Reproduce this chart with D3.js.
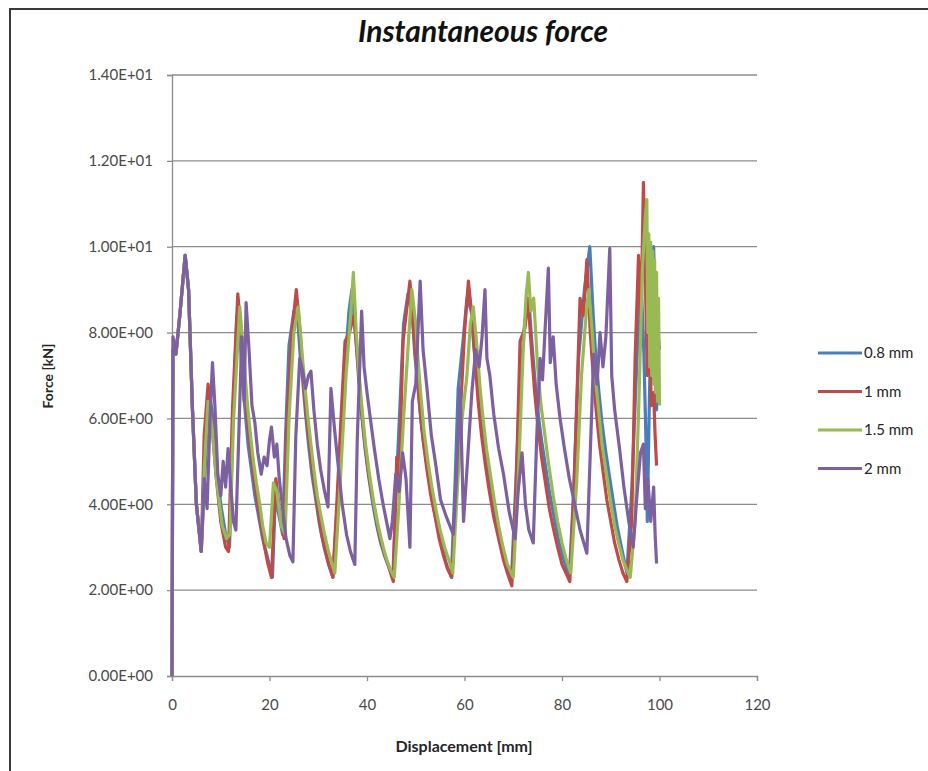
<!DOCTYPE html>
<html lang="en">
  <head>
    <meta charset="UTF-8" />
    <title>Instantaneous force</title>
    <style>
      body {
        margin: 0;
        background: #fff;
      }
      svg {
        display: block;
        font-family: Lato, "Open Sans", sans-serif;
      }
    </style>
  </head>
  <body>
    <svg width="928" height="771" id="chart"></svg>

    <script src="https://d3js.org/d3.v7.min.js"></script>
    <script>
      // tick values and labels
      var xTicks = [0, 20, 40, 60, 80, 100, 120];
      var yTicks = [0, 2, 4, 6, 8, 10, 12, 14];
      var yTickLabels = ["0.00E+00", "2.00E+00", "4.00E+00", "6.00E+00", "8.00E+00", "1.00E+01", "1.20E+01", "1.40E+01"];

      var seriesNames = ["0.8 mm", "1 mm", "1.5 mm", "2 mm"];
      var seriesColors = ["#4a7ebb", "#be4b48", "#98b954", "#7d60a0"];

      // [displacement mm, force kN]
      var blue = [
        [0,0],[0.2,7.6],[0.8,7.5],[1.6,8.4],[2.7,9.8],[3.4,9.0],[4.2,6.2],[5.0,4.0],[6.0,2.9],
        [6.8,4.8],[7.6,6.6],[8.2,6.2],[9,5.0],[10,4.0],[11,3.3],[11.8,3.0],[12.4,5.6],[13.3,8.4],
        [13.9,8.0],[14.6,6.7],[15.6,5.4],[17,4.2],[18.6,3.2],[20.6,2.3],[21.2,4.2],[22,3.7],[22.7,3.3],
        [23.3,5.6],[24,7.7],[25,8.5],[25.8,8.3],[26.4,7.3],[26.8,6.9],[27.4,6.1],[28,5.4],[28.7,4.7],[29.5,4.1],[30.3,3.5],[31.2,3.0],[32.1,2.6],[33,2.3],
        [34,4.2],[35,6.4],[36.3,8.5],[36.9,9.0],[37.7,7.9],[38.3,6.9],[38.9,6.1],[39.6,5.3],[40.4,4.6],[41.2,4.0],[42,3.5],[42.8,3.1],[43.6,2.8],
        [45.3,2.3],[46,4.4],[46.8,6.4],[47.5,8.2],[48.4,8.9],[49.3,8.4],[49.8,7.5],[50.4,6.8],[51.1,5.9],[51.9,5.2],[52.7,4.6],[53.5,4.0],[54.4,3.5],
        [55.4,3.0],[56.3,2.6],[57.3,2.3],[58.1,4.6],[58.7,6.7],[59.7,7.8],[60.5,8.8],[61.4,8.5],[61.9,7.7],[62.5,7.0],[63.2,6.1],[64,5.4],[64.8,4.8],
        [65.6,4.2],[66.6,3.6],[67.6,3.1],[68.6,2.6],[69.6,2.2],[70.5,4.4],[71.4,6.8],[72.4,8.3],[73.3,8.6],[73.8,7.8],[74.3,7.1],[75,6.2],[75.8,5.5],[76.6,4.9],
        [77.4,4.3],[78.4,3.7],[79.4,3.1],[80.4,2.7],[81.5,2.3],[82.4,4.3],[83.4,7.4],[84.6,9.0],[85.7,10.0],[86.4,8.4],[86.9,7.5],[87.5,6.7],[88.2,5.9],
        [89,5.2],[89.8,4.6],[90.6,4.0],[91.3,3.5],[92,3.1],[93.3,2.4],[94.3,4.3],[95.3,7.2],[96.2,9.3],[96.8,7.5],[97.2,5.6],
        [97.5,3.6],[97.9,6.3],[98.4,9.0],[98.8,10.0],[99.1,8.5],[99.4,6.2],[99.7,8.0],[100,7.6]
      ];
      var red = [
        [0,0],[0.2,7.6],[0.8,7.5],[1.6,8.4],[2.7,9.8],[3.4,9.0],[4.2,6.2],[5.0,4.0],[6.0,2.9],
        [6.6,5.6],[7.4,6.8],[8.1,6.0],[9,4.7],[10,3.6],[11,3.0],[11.6,2.9],[12.4,6.2],[13.5,8.9],
        [14.2,8.0],[15,6.6],[15.5,5.9],[16.1,5.3],[16.8,4.6],[17.6,4.0],[18.3,3.5],[19,3.0],[19.7,2.6],[20.4,2.3],[21.3,4.6],[22.2,3.7],[23,3.2],
        [23.5,5.7],[24.5,7.9],[25.5,9.0],[26.3,8.0],[26.8,7.1],[27.3,6.4],[27.9,5.7],[28.6,5.0],[29.3,4.4],[30,3.8],[30.7,3.3],[31.5,2.9],[32.2,2.6],[33,2.3],
        [33.8,4.0],[34.8,6.3],[35.5,7.8],[36.4,8.0],[37.3,8.4],[38.2,7.2],[38.8,6.3],[39.4,5.6],[40.1,4.9],[40.9,4.3],[41.7,3.8],[42.5,3.3],[43.2,3.0],
        [44,2.7],[45.4,2.2],[46.1,5.1],[46.6,4.6],[47.4,7.8],[48.8,9.2],[49.6,8.0],[50.2,7.1],[50.8,6.3],[51.5,5.5],[52.3,4.8],[53.1,4.2],[54,3.7],[54.8,3.2],
        [55.7,2.8],[56.5,2.5],[57.4,2.3],[58.2,4.0],[59.1,6.0],[60,8.0],[60.8,9.2],[61.6,8.3],[62.2,7.3],[62.8,6.4],[63.5,5.6],[64.3,4.9],[65.1,4.3],
        [66,3.7],[67,3.2],[68,2.7],[68.8,2.4],[69.7,2.1],[70.5,4.0],[71.4,7.8],[72.4,8.1],[73,8.8],[73.8,7.5],[74.4,6.6],[75,5.9],[75.8,5.1],
        [76.6,4.5],[77.4,3.9],[78.3,3.4],[79.1,3.0],[80,2.6],[81.6,2.2],[82.5,4.5],[83.2,7.0],[83.7,8.8],[84.4,8.4],
        [85.1,9.7],[85.8,8.0],[86.4,7.0],[87,6.2],[87.7,5.4],[88.5,4.7],[89.2,4.1],[90,3.6],[90.8,3.1],[91.7,2.7],[92.5,2.4],[93.3,2.2],[94.3,3.6],[95,7.4],
        [95.7,9.8],[96.2,8.2],[96.7,11.5],[97.1,9.2],[97.5,7.0],[97.9,8.6],[98.3,6.3],[98.8,6.6],[99.1,5.6],
        [99.4,4.9]
      ];
      var green = [
        [0,0],[0.2,7.6],[0.8,7.5],[1.6,8.4],[2.7,9.8],[3.4,9.0],[4.2,6.2],[5.0,4.0],[6.0,2.9],
        [6.7,5.0],[7.4,6.4],[8.2,5.8],[9.2,4.5],[10.3,3.5],[11.2,3.2],[11.9,3.3],[12.6,5.9],[13.9,8.6],
        [14.6,7.6],[15.5,6.3],[16.1,5.6],[16.7,5.0],[17.3,4.5],[18,4.0],[18.6,3.5],[19.3,3.1],[20,3.0],[20.8,4.5],[21.5,4.3],[22.4,3.5],
        [23.2,3.3],[24,6.0],[25,8.0],[25.9,8.6],[26.7,7.5],[27.3,6.7],[27.9,6.0],[28.5,5.4],[29.1,4.8],[29.8,4.2],[30.6,3.7],[31.3,3.3],[32.1,2.9],
        [33.4,2.4],[34.5,4.5],[35.7,7.0],[36.7,8.5],[37.2,9.4],[37.8,8.0],[38.4,7.0],[39,6.2],[39.7,5.4],[40.5,4.7],[41.3,4.1],[42.1,3.6],[42.9,3.2],
        [43.8,2.8],[44.7,2.5],[45.6,2.3],[46.5,3.9],[47.5,6.0],[48.5,7.8],[49.2,9.0],[50,8.2],[50.5,7.3],[51,6.6],[51.7,5.7],[52.5,5.0],[53.3,4.4],
        [54.1,3.9],[55,3.4],[55.9,3.0],[56.8,2.7],[57.6,2.4],[58.6,4.5],[59.5,6.0],[60.5,7.0],[61.2,8.2],[61.8,8.6],[62.6,7.6],[63.2,6.7],
        [63.8,6.0],[64.5,5.3],[65.3,4.7],[66.1,4.1],[67,3.5],[67.9,3.0],[68.8,2.6],[70,2.3],[71,4.5],[72,7.5],[72.6,8.8],[73.1,9.4],
        [73.6,8.5],[74.2,8.8],[75,7.2],[75.7,6.3],[76.5,5.6],[77.3,4.9],[78.2,4.2],[79.1,3.6],[80,3.1],[80.9,2.7],[81.8,2.4],[83,4.5],[84,7.0],
        [85,8.5],[85.5,9.0],[86.2,8.0],[86.8,7.0],[87.5,6.2],[88.2,5.4],[89,4.8],[89.9,4.1],[90.8,3.5],[91.6,3.1],[92.5,2.7],[93.2,2.5],[94,2.3],[95,3.6],
        [95.8,6.5],[96.5,9.5],[97.1,10.7],[97.4,11.1],[97.6,8.0],[97.8,10.3],[98,7.2],[98.2,10.1],[98.4,7.0],
        [98.6,9.9],[98.8,6.8],[99,9.7],[99.2,6.6],[99.4,9.4],[99.6,6.4],[99.8,8.8],[100,6.3]
      ];
      var purple = [
        [0,0],[0.2,7.9],[0.8,7.5],[1.6,8.4],[2.7,9.8],[3.4,9.0],[4.2,6.2],[5.0,4.0],[6.0,2.9],
        [6.6,4.6],[7.2,3.9],[7.8,6.0],[8.3,7.3],[8.8,6.3],[9.4,4.7],[10,4.2],[10.5,5.0],[11,4.4],
        [11.5,5.3],[12,4.5],[12.6,3.6],[13.1,3.4],[13.7,5.6],[14.3,7.9],[14.8,6.4],[15.2,8.7],[15.8,7.6],
        [16.4,6.3],[17,5.9],[17.6,5.2],[18.3,4.7],[18.9,5.1],[19.5,4.9],[20,5.5],[20.4,5.8],[21,5.1],
        [21.5,5.4],[22,4.6],[22.7,3.9],[23.4,3.2],[24.2,2.8],[24.8,2.66],[25.4,5.6],[26.2,7.4],[26.8,7.1],
        [27.4,6.7],[28,7.0],[28.5,7.1],[29.1,6.2],[29.8,5.4],[30.5,4.8],[31.3,4.3],[32,3.94],[32.6,6.7],
        [33.3,5.8],[34,5.0],[34.9,4.0],[35.8,3.3],[36.6,2.9],[37.5,2.6],[38,5.5],[38.9,8.5],[39.4,7.2],
        [40,6.6],[40.8,5.9],[41.5,5.3],[42.4,4.6],[43.3,4.0],[44.7,3.2],[45.2,3.6],[45.9,4.7],[46.6,4.3],
        [47.3,5.2],[48,4.6],[48.8,3.0],[49.3,6.4],[50,6.8],[50.9,9.2],[51.5,7.6],[52.3,6.7],[53.2,5.6],
        [54,5.0],[55.1,4.1],[56.3,3.7],[57.7,3.3],[58.3,4.5],[59.1,6.7],[59.8,3.6],[60.5,4.8],[61.5,6.6],
        [62.3,7.6],[63,7.2],[63.6,7.9],[64.2,9.0],[64.6,7.4],[65.2,7.0],[66,6.1],[67,5.3],[68,4.7],
        [69.2,3.8],[70.4,3.2],[71,4.3],[71.8,5.2],[72.5,4.0],[73.2,3.4],[74.1,3.1],[74.8,5.5],[75.5,7.4],
        [76,6.9],[76.5,8.0],[77.2,9.5],[77.6,7.3],[78.2,7.9],[78.8,6.8],[79.6,6.0],[80.5,5.3],[81.5,4.6],
        [82.6,4.0],[83.7,3.4],[85.1,2.86],[85.8,5.2],[86.5,7.5],[87.2,6.8],[87.8,8.0],[88.4,7.2],[89,7.9],
        [89.8,9.96],[90.2,7.0],[90.8,6.2],[91.8,5.3],[92.7,4.4],[93.7,3.6],[94.6,3.0],[95.3,4.1],[96.1,5.2],
        [96.7,5.4],[97.1,3.9],[97.6,4.6],[98.2,3.6],[98.8,4.4],[99.1,3.3],[99.4,2.62]
      ];
      var allSeries = [blue, red, green, purple];

      var svg = d3.select("#chart");
      var x = d3.scaleLinear().domain([0, 120]).range([172, 757]);
      var y = d3.scaleLinear().domain([0, 14]).range([676, 75]);

      // outer chart frame (only left and top edges show)
      svg.append("path")
        .attr("d", "M10,771V9H928")
        .attr("fill", "none")
        .attr("stroke", "#3a3a3a")
        .attr("stroke-width", 2);

      svg.append("text")
        .attr("x", 483)
        .attr("y", 42)
        .attr("text-anchor", "middle")
        .attr("font-size", 30)
        .attr("font-weight", "bold")
        .attr("font-style", "italic")
        .attr("fill", "#111")
        .text("Instantaneous force");

      // gridlines
      svg.append("g")
        .selectAll("line")
        .data(yTicks.slice(1))
        .join("line")
        .attr("x1", x(0))
        .attr("x2", x(120))
        .attr("y1", function (d) { return y(d); })
        .attr("y2", function (d) { return y(d); })
        .attr("stroke", "#8c8c8c")
        .attr("stroke-width", 1.3);

      var yAxis = svg.append("g")
        .attr("transform", "translate(" + x(0) + ",0)")
        .call(d3.axisLeft(y).tickValues(yTicks).tickSize(5).tickPadding(14)
          .tickFormat(function (d, i) { return yTickLabels[i]; }));
      var xAxis = svg.append("g")
        .attr("transform", "translate(0," + y(0) + ")")
        .call(d3.axisBottom(x).tickValues(xTicks).tickSize(5).tickPadding(18));

      [xAxis, yAxis].forEach(function (g) {
        g.select(".domain").attr("stroke", "#8c8c8c").attr("stroke-width", 1.3);
        g.selectAll(".tick line").attr("stroke", "#8c8c8c").attr("stroke-width", 1.3);
        g.selectAll(".tick text")
          .attr("font-family", "Lato, sans-serif")
          .attr("font-size", 15)
          .attr("fill", "#4a4a4a");
      });

      svg.append("text")
        .attr("x", 464)
        .attr("y", 752)
        .attr("text-anchor", "middle")
        .attr("font-size", 16)
        .attr("font-weight", "bold")
        .attr("fill", "#262626")
        .text("Displacement [mm]");

      svg.append("text")
        .attr("transform", "translate(53,376) rotate(-90)")
        .attr("text-anchor", "middle")
        .attr("font-size", 14)
        .attr("font-weight", "bold")
        .attr("fill", "#262626")
        .text("Force [kN]");

      var line = d3.line()
        .x(function (d) { return x(d[0]); })
        .y(function (d) { return y(d[1]); });

      svg.append("g")
        .selectAll("path")
        .data(allSeries)
        .join("path")
        .attr("d", line)
        .attr("fill", "none")
        .attr("stroke", function (d, i) { return seriesColors[i]; })
        .attr("stroke-width", 3.2)
        .attr("stroke-linejoin", "round");

      var legend = svg.append("g")
        .selectAll("g")
        .data(seriesNames)
        .join("g")
        .attr("transform", function (d, i) { return "translate(818," + (353 + i * 38.5) + ")"; });
      legend.append("line")
        .attr("x1", 0)
        .attr("x2", 44)
        .attr("stroke", function (d, i) { return seriesColors[i]; })
        .attr("stroke-width", 3);
      legend.append("text")
        .attr("x", 46)
        .attr("dy", "0.35em")
        .attr("font-size", 15)
        .attr("fill", "#262626")
        .text(function (d) { return d; });
    </script>
  </body>
</html>
